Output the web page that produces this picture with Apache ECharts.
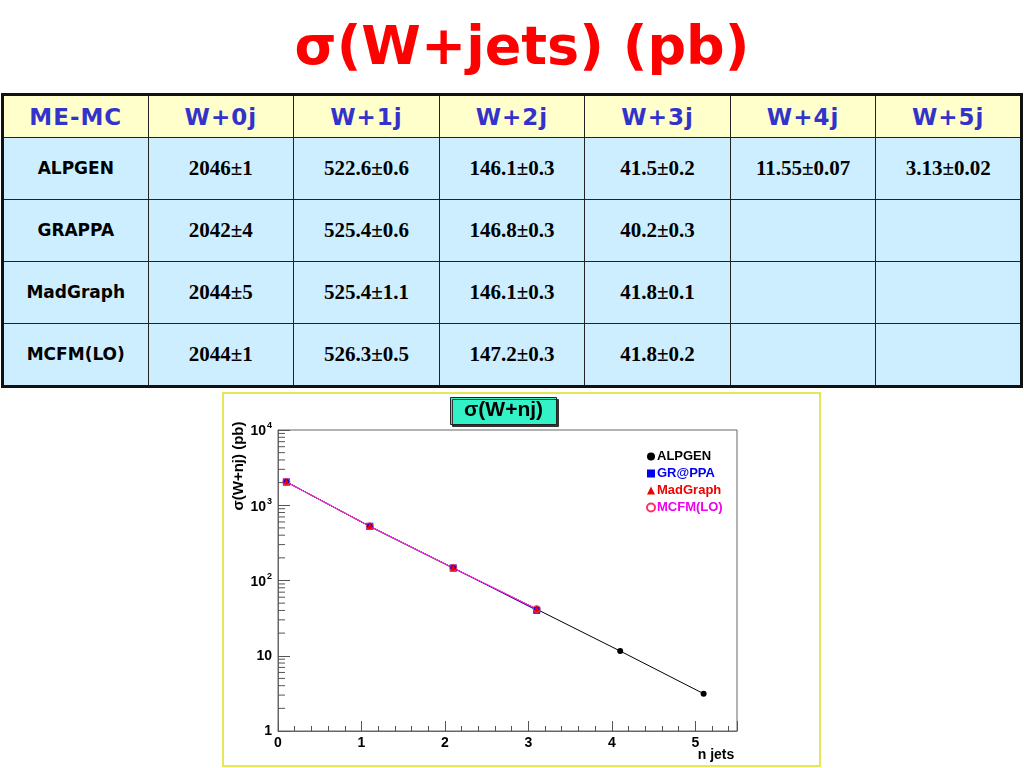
<!DOCTYPE html>
<html>
<head>
<meta charset="utf-8">
<script src="https://cdn.jsdelivr.net/npm/echarts@6.0.0/dist/echarts.min.js"></script>
<style>
    html, body { margin: 0; padding: 0; background: #fff; }
    body { width: 1024px; height: 768px; position: relative; overflow: hidden; }
    #title {
        position: absolute; left: 10px; top: 14px; width: 1024px; text-align: center;
        font-family: "DejaVu Sans", sans-serif; font-weight: bold; font-size: 54px; color: #ff0000;
    }
    #tbl {
        position: absolute; left: 1px; top: 93px; width: 1022px;
        border-collapse: collapse; table-layout: fixed; border: 3px solid #111;
    }
    #tbl td {
        border: 1.5px solid #222; text-align: center; padding: 0;
    }
    #tbl tr.head td {
        height: 41px; background: #ffffcc; color: #3333cc;
        font-family: "DejaVu Sans", sans-serif; font-weight: bold; font-size: 23px; letter-spacing: 1px;
    }
    #tbl tr.body td {
        height: 61px; background: #cceeff; color: #000;
        font-family: "Liberation Serif", serif; font-weight: bold; font-size: 21px;
    }
    #tbl tr.body td.gen {
        font-family: "DejaVu Sans", sans-serif; font-size: 17px;
        vertical-align: top; padding-top: 20px; height: 41px;
    }
    #chart {
        position: absolute; left: 222px; top: 392px; width: 595px; height: 371px;
        border: 2px solid #e6e65a; background: #fff;
    }
</style>
</head>
<body>
<div id="title">σ(W+jets) (pb)</div>
<table id="tbl"></table>
<div id="chart"></div>
<script>
//表头和各生成器的截面数据
var headLabels = ['ME-MC', 'W+0j', 'W+1j', 'W+2j', 'W+3j', 'W+4j', 'W+5j'];
var generators = ['ALPGEN', 'GRAPPA', 'MadGraph', 'MCFM(LO)'];
var legendNames = ['ALPGEN', 'GR@PPA', 'MadGraph', 'MCFM(LO)'];

var alpgenVals = [2046, 522.6, 146.1, 41.5, 11.55, 3.13];
var alpgenErrs = ['1', '0.6', '0.3', '0.2', '0.07', '0.02'];
var grappaVals = [2042, 525.4, 146.8, 40.2];
var grappaErrs = ['4', '0.6', '0.3', '0.3'];
var madgraphVals = [2044, 525.4, 146.1, 41.8];
var madgraphErrs = ['5', '1.1', '0.3', '0.1'];
var mcfmVals = [2044, 526.3, 147.2, 41.8];
var mcfmErrs = ['1', '0.5', '0.3', '0.2'];

//图中点的横坐标 (n jets, 略向右偏移)
var jetPos = [0.1, 1.1, 2.1, 3.1, 4.1, 5.1];
var xTicks = [0, 1, 2, 3, 4, 5];
var yMinorTicks = [2, 3, 4, 5, 6, 7, 8, 9,
    20, 30, 40, 50, 60, 70, 80, 90,
    200, 300, 400, 500, 600, 700, 800, 900,
    2000, 3000, 4000, 5000, 6000, 7000, 8000, 9000];

window.onload = function () {
    buildTable();
    drawChart();
};

//生成表格
function buildTable() {
    var tbl = document.getElementById('tbl');
    var html = '<tr class="head">';
    for (var i = 0; i < headLabels.length; i++) {
        html += '<td>' + headLabels[i] + '</td>';
    }
    html += '</tr>';
    var vals = [alpgenVals, grappaVals, madgraphVals, mcfmVals];
    var errs = [alpgenErrs, grappaErrs, madgraphErrs, mcfmErrs];
    for (var r = 0; r < generators.length; r++) {
        html += '<tr class="body"><td class="gen">' + generators[r] + '</td>';
        for (var c = 0; c < 6; c++) {
            var txt = c < vals[r].length ? String(vals[r][c]) + '±' + errs[r][c] : '';
            html += '<td>' + txt + '</td>';
        }
        html += '</tr>';
    }
    tbl.innerHTML = html;
}

function pairs(vals) {
    return vals.map(function (v, i) { return [jetPos[i], v]; });
}

function drawChart() {
    var myChart = echarts.init(document.getElementById('chart'));
    var font = 'Liberation Sans';
    var option = {
        animation: false,
        title: {
            text: 'σ(W+nj)',
            left: 226,
            top: 3,
            padding: [3, 14, 4, 14],
            backgroundColor: '#33f2c8',
            borderColor: '#222',
            borderWidth: 1,
            shadowColor: '#333',
            shadowOffsetX: 2,
            shadowOffsetY: 2,
            shadowBlur: 0,
            textStyle: { fontFamily: font, fontWeight: 'bold', fontSize: 21, color: '#000' }
        },
        legend: {
            orient: 'vertical',
            left: 417,
            top: 51,
            itemWidth: 8,
            itemHeight: 8,
            itemGap: 4,
            textStyle: { fontFamily: font, fontWeight: 'bold', fontSize: 13, padding: [0, 0, 0, -3] },
            data: [
                { name: 'ALPGEN', icon: 'circle', textStyle: { color: '#000' } },
                { name: 'GR@PPA', icon: 'rect', textStyle: { color: '#0000ee' } },
                { name: 'MadGraph', icon: 'triangle', textStyle: { color: '#ee0000' } },
                { name: 'MCFM(LO)', icon: 'circle', textStyle: { color: '#ee00ee' } }
            ]
        },
        grid: {
            left: 54, top: 36, width: 459, height: 301,
            show: true, borderColor: '#666', borderWidth: 1
        },
        graphic: [
            {
                type: 'text', x: 15, y: 72, rotation: Math.PI / 2,
                style: {
                    text: 'σ(W+nj) (pb)', fill: '#000', align: 'center', verticalAlign: 'middle',
                    font: 'bold 15px "Liberation Sans"'
                }
            },
            {
                type: 'text', x: 492, y: 361,
                style: {
                    text: 'n jets', fill: '#000', align: 'center', verticalAlign: 'middle',
                    font: 'bold 14px "Liberation Sans"'
                }
            }
        ],
        xAxis: {
            type: 'value',
            min: 0,
            max: 5.5,
            interval: 1,
            splitLine: { show: false },
            axisLine: { lineStyle: { color: '#666' } },
            axisTick: { inside: true, length: 10, lineStyle: { color: '#555' } },
            minorTick: { show: true, splitNumber: 5, length: 5, lineStyle: { color: '#555' } },
            axisLabel: {
                margin: 5, color: '#000', fontFamily: font, fontWeight: 'bold', fontSize: 14,
                showMaxLabel: false,
                formatter: function (v) { return xTicks.indexOf(v) >= 0 ? String(v) : ''; }
            }
        },
        yAxis: {
            type: 'log',
            logBase: 10,
            min: 1,
            max: 10000,
            splitLine: { show: false },
            axisLine: { lineStyle: { color: '#666' } },
            axisTick: { inside: true, length: 12, lineStyle: { color: '#555' } },
            axisLabel: {
                margin: 6, color: '#000', fontFamily: font, fontWeight: 'bold', fontSize: 14,
                formatter: function (v) {
                    if (v < 5) return '{b|1}';
                    if (v < 50) return '{b|10}';
                    return '{b|10}{s|' + Math.round(Math.log(v) / Math.LN10) + '}';
                },
                rich: {
                    b: { fontFamily: font, fontWeight: 'bold', fontSize: 14, color: '#000', verticalAlign: 'bottom' },
                    s: { fontFamily: font, fontSize: 9, color: '#000', verticalAlign: 'top', padding: [0, 0, 8, 1] }
                }
            }
        },
        series: [
            {
                name: 'yMinor',
                type: 'custom',
                silent: true,
                z: 1,
                data: yMinorTicks.map(function (v) { return [0, v]; }),
                renderItem: function (params, api) {
                    var p = api.coord([0, api.value(1)]);
                    return {
                        type: 'line',
                        shape: { x1: p[0], y1: p[1], x2: p[0] + 7, y2: p[1] },
                        style: { stroke: '#555', lineWidth: 1 }
                    };
                }
            },
            {
                name: 'ALPGEN', type: 'line', data: pairs(alpgenVals),
                symbol: 'circle', symbolSize: 6,
                itemStyle: { color: '#000' }, lineStyle: { color: '#000', width: 1 }
            },
            {
                name: 'GR@PPA', type: 'line', data: pairs(grappaVals),
                symbol: 'rect', symbolSize: 7,
                itemStyle: { color: '#0000ee' }, lineStyle: { color: '#0000ee', width: 1 }
            },
            {
                name: 'MadGraph', type: 'line', data: pairs(madgraphVals),
                symbol: 'triangle', symbolSize: 7,
                itemStyle: { color: '#ee0000' }, lineStyle: { color: '#ee0000', width: 1 }
            },
            {
                name: 'MCFM(LO)', type: 'line', data: pairs(mcfmVals),
                symbol: 'circle', symbolSize: 7,
                itemStyle: { color: 'rgba(0,0,0,0)', borderColor: '#ff3060', borderWidth: 1 },
                lineStyle: { color: '#ff33ff', width: 1 }
            }
        ]
    };
    myChart.setOption(option);
}
</script>
</body>
</html>
